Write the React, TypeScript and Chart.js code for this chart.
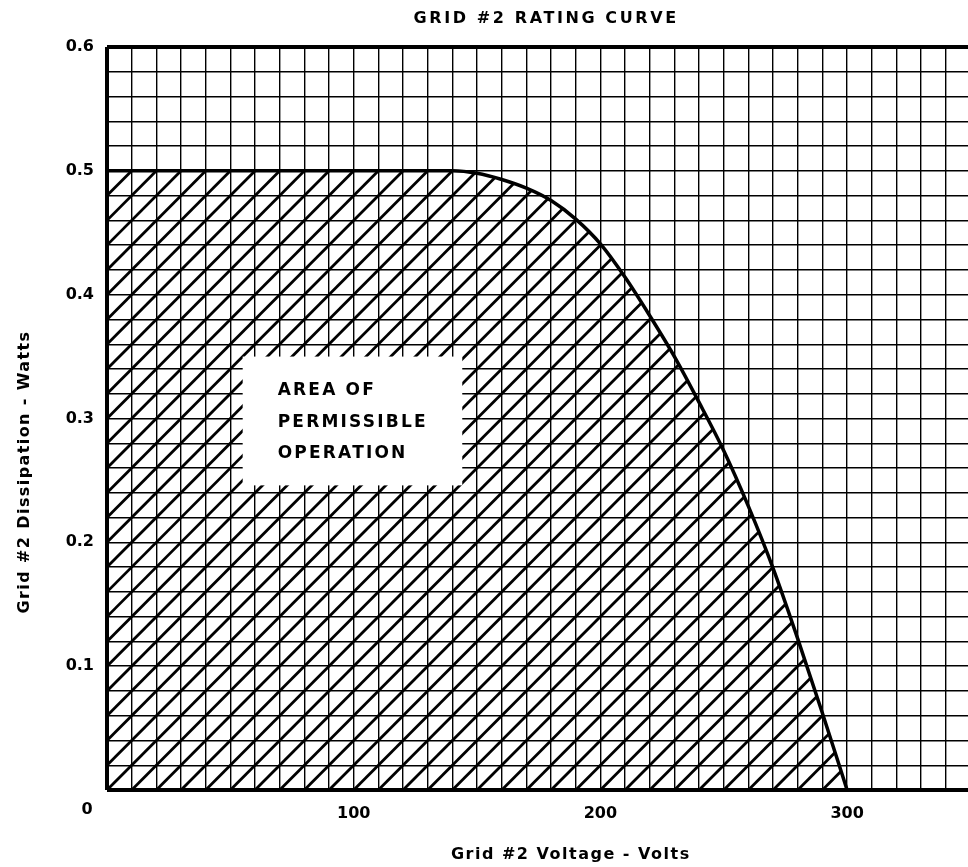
import React, { useEffect, useRef } from 'react';
import { Chart, registerables } from 'chart.js';

Chart.register(...registerables);

// ---- data ----
const voltage = [0, 100, 140, 150, 160, 170, 180, 190, 200, 210, 220, 230, 240, 250, 260, 270, 280, 290, 300];
const dissipation = [0.5, 0.5, 0.5, 0.498, 0.493, 0.486, 0.476, 0.461, 0.441, 0.414, 0.383, 0.35, 0.313, 0.274, 0.229, 0.179, 0.122, 0.062, 0];
const xTickLabels = [100, 200, 300];
const yTickLabels = [0.1, 0.2, 0.3, 0.4, 0.5, 0.6];
const chartTitle = 'GRID #2 RATING CURVE';
const xTitle = 'Grid #2 Voltage - Volts';
const yTitle = 'Grid #2 Dissipation - Watts';
const areaLabel = ['AREA OF', 'PERMISSIBLE', 'OPERATION'];
const areaBoxX = [55, 144];
const areaBoxY = [0.246, 0.35];

const FONT = '"DejaVu Sans", sans-serif';

const hatchPlugin = {
  id: 'hatchArea',
  beforeDatasetsDraw(chart: any) {
    const { ctx, chartArea } = chart;
    const x = chart.scales.x;
    const y = chart.scales.y;
    const meta = chart.getDatasetMeta(0);
    const line = meta.dataset;
    if (line.updateControlPoints) line.updateControlPoints(chartArea, 'x');
    ctx.save();
    ctx.beginPath();
    ctx.rect(chartArea.left, chartArea.top, chartArea.right - chartArea.left, chartArea.bottom - chartArea.top);
    ctx.clip();
    ctx.beginPath();
    line.path(ctx);
    ctx.lineTo(x.getPixelForValue(voltage[0]), y.getPixelForValue(0));
    ctx.closePath();
    ctx.clip();
    ctx.strokeStyle = '#000';
    ctx.lineWidth = 2.8;
    ctx.lineCap = 'butt';
    for (let k = -35; k <= 40; k++) {
      ctx.beginPath();
      ctx.moveTo(x.getPixelForValue(10 * k), y.getPixelForValue(0));
      ctx.lineTo(x.getPixelForValue(10 * k + 300), y.getPixelForValue(0.6));
      ctx.stroke();
    }
    ctx.restore();

    // white label box
    const bx0 = x.getPixelForValue(areaBoxX[0]);
    const bx1 = x.getPixelForValue(areaBoxX[1]);
    const by0 = y.getPixelForValue(areaBoxY[1]);
    const by1 = y.getPixelForValue(areaBoxY[0]);
    ctx.save();
    ctx.fillStyle = '#fff';
    ctx.fillRect(bx0, by0, bx1 - bx0, by1 - by0);
    ctx.fillStyle = '#000';
    ctx.font = `bold 17px ${FONT}`;
    (ctx as any).letterSpacing = '2.2px';
    ctx.textAlign = 'left';
    ctx.textBaseline = 'alphabetic';
    const tx = bx0 + 35;
    ctx.fillText(areaLabel[0], tx, by0 + 38);
    ctx.fillText(areaLabel[1], tx, by0 + 70);
    ctx.fillText(areaLabel[2], tx, by0 + 101);
    ctx.restore();
  },
  afterDraw(chart: any) {
    const { ctx, chartArea } = chart;
    const x = chart.scales.x;
    ctx.save();
    ctx.fillStyle = '#000';
    ctx.textBaseline = 'middle';
    ctx.textAlign = 'center';
    // title
    ctx.font = `bold 16px ${FONT}`;
    (ctx as any).letterSpacing = '2.6px';
    ctx.fillText(chartTitle, x.getPixelForValue(178), 19);
    // x title
    ctx.font = `bold 16px ${FONT}`;
    (ctx as any).letterSpacing = '1.5px';
    ctx.fillText(xTitle, x.getPixelForValue(188), 855);
    // origin label
    (ctx as any).letterSpacing = '0px';
    ctx.font = `bold 16px ${FONT}`;
    ctx.fillText('0', chartArea.left - 20, chartArea.bottom + 20);
    // y title
    ctx.translate(25, 472);
    ctx.rotate(-Math.PI / 2);
    ctx.font = `bold 16px ${FONT}`;
    (ctx as any).letterSpacing = '1.4px';
    ctx.fillText(yTitle, 0, 0);
    ctx.restore();
  },
};

export default function App() {
  const ref = useRef<HTMLCanvasElement | null>(null);
  useEffect(() => {
    if (!ref.current) return;
    const chart = new Chart(ref.current, {
      type: 'line',
      data: {
        datasets: [
          {
            data: voltage.map((v, i) => ({ x: v, y: dissipation[i] })),
            borderColor: '#000',
            borderWidth: 3.5,
            pointRadius: 0,
            fill: false,
            cubicInterpolationMode: 'monotone',
          } as any,
        ],
      },
      options: {
        responsive: false,
        animation: false,
        devicePixelRatio: 1,
        layout: { padding: { top: 47, right: 0, left: 0, bottom: 0 } },
        plugins: { legend: { display: false }, tooltip: { enabled: false }, title: { display: false } },
        scales: {
          x: {
            type: 'linear',
            min: 0,
            max: 349,
            afterFit: (s: any) => { s.height = 77; },
            border: { display: false },
            grid: {
              color: '#000',
              lineWidth: (c: any) => (c.tick && c.tick.value === 0 ? 4 : 1.4),
              drawTicks: false,
            },
            ticks: {
              stepSize: 10,
              includeBounds: false,
              autoSkip: false,
              maxRotation: 0,
              padding: 14,
              color: '#000',
              font: { family: FONT, size: 16, weight: 'bold' },
              callback: (v: any) => (xTickLabels.includes(Math.round(v)) ? String(Math.round(v)) : ''),
            },
          },
          y: {
            type: 'linear',
            min: 0,
            max: 0.6,
            afterFit: (s: any) => { s.width = 107; },
            border: { display: false },
            grid: {
              color: '#000',
              lineWidth: (c: any) => {
                const v = c.tick ? c.tick.value : -1;
                return Math.abs(v) < 1e-6 || Math.abs(v - 0.6) < 1e-6 ? 4 : 1.4;
              },
              drawTicks: false,
            },
            ticks: {
              stepSize: 0.02,
              autoSkip: false,
              padding: 13,
              color: '#000',
              font: { family: FONT, size: 16, weight: 'bold' },
              callback: (v: any) => {
                const r = Math.round(v * 10) / 10;
                return Math.abs(v - r) < 1e-6 && yTickLabels.includes(r) ? r.toFixed(1) : '';
              },
            },
          },
        },
      } as any,
      plugins: [hatchPlugin],
    });
    return () => chart.destroy();
  }, []);
  return (
    <div style={{ position: 'absolute', left: 0, top: 0, width: 968, height: 867, background: '#fff' }}>
      <canvas ref={ref} width={968} height={867} style={{ display: 'block' }} />
    </div>
  );
}
